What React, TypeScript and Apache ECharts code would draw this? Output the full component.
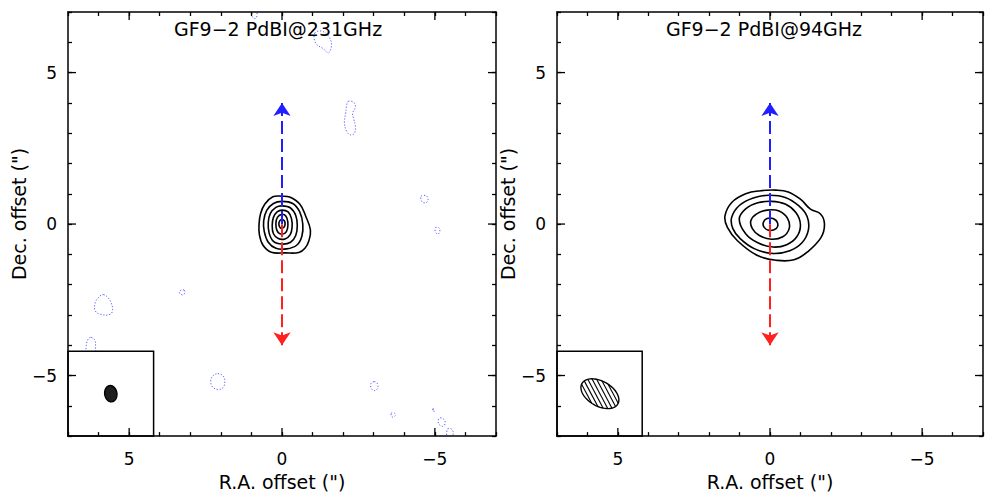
import React, { useEffect, useRef } from 'react';
import * as echarts from 'echarts';

const FONT = 'DejaVu Sans';
const AXIS_MIN = -7;
const AXIS_MAX = 7;
const MAJOR_TICKS = [-5, 0, 5];
const PANEL_TITLES = ['GF9−2 PdBI@231GHz', 'GF9−2 PdBI@94GHz'];
const X_TITLE = 'R.A. offset (")';
const Y_TITLE = 'Dec. offset (")';

// 231 GHz positive contours (R.A. offset, Dec. offset) in arcsec
const C231_1 = [[0.3, 0.9], [0, 0.92], [-0.25, 0.89], [-0.58, 0.66], [-0.78, 0.25], [-0.93, -0.2], [-0.88, -0.55], [-0.75, -0.8], [-0.55, -0.94], [-0.1, -0.95], [0.35, -0.93], [0.62, -0.7], [0.74, -0.35], [0.75, 0], [0.7, 0.35], [0.56, 0.66]];
const C231_2 = [[0, 0.75], [-0.35, 0.68], [-0.58, 0.4], [-0.68, 0], [-0.65, -0.4], [-0.48, -0.7], [-0.15, -0.82], [0.2, -0.8], [0.45, -0.6], [0.58, -0.25], [0.6, 0.1], [0.5, 0.45], [0.28, 0.68]];
const C231_3 = [[0, 0.6], [-0.28, 0.53], [-0.45, 0.28], [-0.5, -0.05], [-0.45, -0.38], [-0.28, -0.6], [0, -0.66], [0.28, -0.57], [0.42, -0.3], [0.45, 0.05], [0.38, 0.35], [0.2, 0.55]];
const C231_4 = [[0, 0.46], [-0.2, 0.4], [-0.31, 0.18], [-0.33, -0.1], [-0.27, -0.35], [-0.1, -0.49], [0.12, -0.48], [0.28, -0.32], [0.32, -0.05], [0.28, 0.22], [0.16, 0.4]];
const C231_5 = [[0, 0.32], [-0.13, 0.26], [-0.19, 0.07], [-0.18, -0.15], [-0.1, -0.3], [0.07, -0.32], [0.17, -0.2], [0.2, 0.02], [0.15, 0.22]];
const C231_6 = [[0, 0.15], [-0.08, 0.1], [-0.1, -0.02], [-0.05, -0.12], [0.05, -0.13], [0.1, -0.03], [0.08, 0.1]];
const CONT_231 = [C231_1, C231_2, C231_3, C231_4, C231_5, C231_6];

// 231 GHz negative (dotted) contours
const N231_A = [[-1.07, 6.3], [-1.29, 6.37], [-1.52, 6.2], [-1.62, 5.91], [-1.52, 5.65], [-1.36, 5.78], [-1.1, 5.97]];
const N231_B = [[0.95, 7.05], [0.97, 6.85], [0.88, 6.78], [0.82, 6.87], [0.84, 7.05]];
const N231_C = [[-2.17, 4.05], [-2.34, 4.02], [-2.4, 3.86], [-2.31, 3.66], [-2.34, 3.49], [-2.4, 3.23], [-2.37, 3.0], [-2.24, 2.94], [-2.11, 3.07], [-2.04, 3.37], [-2.08, 3.63], [-2.11, 3.89]];
const N231_D = [[-4.55, 0.92], [-4.72, 0.93], [-4.78, 0.8], [-4.7, 0.7], [-4.58, 0.74]];
const N231_E = [[-5.02, -0.12], [-5.14, -0.13], [-5.16, -0.25], [-5.1, -0.33], [-5.02, -0.26]];
const N231_F = [[5.84, -2.33], [5.68, -2.44], [5.59, -2.6], [5.54, -2.83], [5.62, -2.98], [5.94, -2.98], [6.11, -2.86], [6.11, -2.6], [5.98, -2.4]];
const N231_G = [[6.24, -3.74], [6.12, -3.84], [6.1, -4.05], [6.12, -4.3], [6.38, -4.3], [6.4, -4.0], [6.34, -3.8]];
const N231_H = [[3.2, -2.18], [3.33, -2.2], [3.35, -2.28], [3.25, -2.34], [3.18, -2.28]];
const N231_I = [[2.1, -4.94], [1.92, -5.02], [1.87, -5.2], [1.93, -5.4], [2.1, -5.46], [2.27, -5.38], [2.33, -5.2], [2.27, -5.02]];
const N231_J = [[-3.02, -5.2], [-3.12, -5.27], [-3.13, -5.42], [-3.02, -5.5], [-2.92, -5.42], [-2.91, -5.27]];
const N231_K = [[-3.57, -6.25], [-3.68, -6.24], [-3.7, -6.33], [-3.6, -6.37]];
const N231_L = [[-4.93, -6.1], [-4.98, -6.12], [-4.96, -6.2]];
const N231_M = [[-5.18, -6.4], [-5.3, -6.45], [-5.34, -6.58], [-5.25, -6.68], [-5.13, -6.6], [-5.11, -6.48]];
const N231_N = [[-5.42, -6.76], [-5.55, -6.77], [-5.6, -6.9], [-5.55, -7.05], [-5.4, -7.05], [-5.39, -6.88]];
const NEG_231 = [N231_A, N231_B, N231_C, N231_D, N231_E, N231_F, N231_G, N231_H, N231_I, N231_J, N231_K, N231_L, N231_M, N231_N];

// 94 GHz positive contours
const C94_1 = [[1.48, 0.27], [1.25, 0.72], [0.8, 1.0], [0.31, 1.1], [-0.2, 1.12], [-0.6, 1.06], [-1.0, 0.82], [-1.33, 0.49], [-1.66, 0.33], [-1.79, 0], [-1.68, -0.44], [-1.22, -0.93], [-0.79, -1.18], [-0.24, -1.2], [0.41, -1.04], [1.07, -0.55], [1.4, -0.11]];
const C94_2 = [[1.26, 0.22], [1.0, 0.62], [0.55, 0.86], [0.05, 0.95], [-0.5, 0.88], [-0.95, 0.6], [-1.22, 0.25], [-1.26, -0.2], [-1.05, -0.62], [-0.65, -0.88], [-0.1, -0.97], [0.5, -0.82], [0.98, -0.48], [1.22, -0.15]];
const C94_3 = [[1.01, 0.16], [0.8, 0.5], [0.4, 0.7], [-0.05, 0.75], [-0.5, 0.66], [-0.85, 0.38], [-1.0, -0.02], [-0.88, -0.42], [-0.55, -0.68], [-0.1, -0.76], [0.4, -0.62], [0.8, -0.32]];
const C94_4 = [[0.63, 0.11], [0.45, 0.33], [0.1, 0.46], [-0.3, 0.43], [-0.58, 0.18], [-0.63, -0.15], [-0.42, -0.42], [-0.05, -0.5], [0.35, -0.38], [0.58, -0.15]];
const C94_5 = [[0.22, 0.05], [0.1, 0.18], [-0.1, 0.18], [-0.25, 0.03], [-0.2, -0.15], [0.03, -0.21], [0.19, -0.11]];
const CONT_94 = [C94_1, C94_2, C94_3, C94_4, C94_5];

// outflow arrows
const SOURCE_POS = [0, 0];
const BLUE_TIP = [0, 4];
const RED_TIP = [0, -4];

// beams: [x, y, half major, half minor, PA deg]
const BEAM_231 = [5.6, -5.6, 0.27, 0.2, 8];
const BEAM_94 = [5.59, -5.6, 0.68, 0.41, 60];
const INSET_EDGE = 4.2;

const fmt = (v: number) => (v % 5 === 0 ? (v < 0 ? '−' + Math.abs(v) : String(Math.abs(v))) : '');

function xAxis(gi: number, pos: 'bottom' | 'top') {
  return {
    type: 'value', gridIndex: gi, position: pos, min: AXIS_MIN, max: AXIS_MAX, interval: 1, inverse: true, z: 3,
    axisLine: { show: true, onZero: false, lineStyle: { color: '#000', width: 1.5 } },
    axisTick: { show: true, inside: true, length: 4, lineStyle: { color: '#000', width: 1.3 } },
    axisLabel: pos === 'bottom'
      ? { show: true, formatter: fmt, margin: 14, fontSize: 17, fontFamily: FONT, color: '#000' }
      : { show: false },
    splitLine: { show: false },
    name: pos === 'bottom' ? X_TITLE : '', nameLocation: 'middle', nameGap: 31,
    nameTextStyle: { fontSize: 19, fontFamily: FONT, color: '#000' },
  };
}
function yAxis(gi: number, pos: 'left' | 'right') {
  return {
    type: 'value', gridIndex: gi, position: pos, min: AXIS_MIN, max: AXIS_MAX, interval: 1, z: 3,
    axisLine: { show: true, onZero: false, lineStyle: { color: '#000', width: 1.5 } },
    axisTick: { show: true, inside: true, length: 4, lineStyle: { color: '#000', width: 1.3 } },
    axisLabel: pos === 'left'
      ? { show: true, formatter: fmt, margin: 11, fontSize: 17, fontFamily: FONT, color: '#000' }
      : { show: false },
    splitLine: { show: false },
  };
}

function contourSeries(ai: number, contours: number[][][], style: any) {
  return {
    type: 'custom', xAxisIndex: ai, yAxisIndex: ai, clip: true, z: 2, silent: true,
    data: contours.map((c, i) => [c[0][0], c[0][1], i]),
    renderItem: (params: any, api: any) => {
      const pts = contours[params.dataIndex].map((p) => api.coord(p));
      return { type: 'polygon', shape: { points: pts, smooth: 0.4 }, style };
    },
  };
}

function beamSeries(ai: number, beam: number[], hatch: boolean) {
  return {
    type: 'custom', xAxisIndex: ai, yAxisIndex: ai, z: 2, silent: true,
    data: [[beam[0], beam[1]]],
    renderItem: (params: any, api: any) => {
      const tl = api.coord([AXIS_MAX, -INSET_EDGE]);
      const br = api.coord([INSET_EDGE, AXIS_MIN]);
      const [bx, by, a, b, pa] = beam;
      const t = (pa * Math.PI) / 180;
      const u = [Math.sin(t), Math.cos(t)];
      const v = [Math.cos(t), -Math.sin(t)];
      const pts: number[][] = [];
      for (let k = 0; k < 72; k++) {
        const ang = (k / 72) * 2 * Math.PI;
        pts.push(api.coord([
          bx + a * Math.cos(ang) * u[0] + b * Math.sin(ang) * v[0],
          by + a * Math.cos(ang) * u[1] + b * Math.sin(ang) * v[1],
        ]));
      }
      const children: any[] = [
        { type: 'rect', shape: { x: tl[0], y: tl[1], width: br[0] - tl[0], height: br[1] - tl[1] }, style: { fill: '#fff', stroke: '#000', lineWidth: 1.5 } },
        { type: 'polygon', shape: { points: pts }, style: { fill: hatch ? '#fff' : '#1e1e1e', stroke: '#000', lineWidth: 1.4 } },
      ];
      if (hatch) {
        const c = api.coord([bx, by]);
        const pu = api.coord([bx + a * u[0], by + a * u[1]]);
        const pv = api.coord([bx + b * v[0], by + b * v[1]]);
        const A = Math.hypot(pu[0] - c[0], pu[1] - c[1]);
        const B = Math.hypot(pv[0] - c[0], pv[1] - c[1]);
        const e1 = [(pu[0] - c[0]) / A, (pu[1] - c[1]) / A];
        const e2 = [(pv[0] - c[0]) / B, (pv[1] - c[1]) / B];
        const phi = (62 * Math.PI) / 180;
        const d = [Math.cos(phi), Math.sin(phi)];
        const n = [-Math.sin(phi), Math.cos(phi)];
        const d1 = d[0] * e1[0] + d[1] * e1[1];
        const d2 = d[0] * e2[0] + d[1] * e2[1];
        const n1 = n[0] * e1[0] + n[1] * e1[1];
        const n2 = n[0] * e2[0] + n[1] * e2[1];
        const spacing = 3.9;
        const kmax = Math.floor(A / spacing);
        for (let k = -kmax; k <= kmax; k++) {
          const s = k * spacing;
          const al = (d1 / A) ** 2 + (d2 / B) ** 2;
          const be = 2 * s * ((n1 * d1) / (A * A) + (n2 * d2) / (B * B));
          const ga = ((s * n1) / A) ** 2 + ((s * n2) / B) ** 2 - 1;
          const disc = be * be - 4 * al * ga;
          if (disc <= 0) continue;
          const t1 = (-be - Math.sqrt(disc)) / (2 * al);
          const t2 = (-be + Math.sqrt(disc)) / (2 * al);
          children.push({
            type: 'line',
            shape: { x1: c[0] + s * n[0] + t1 * d[0], y1: c[1] + s * n[1] + t1 * d[1], x2: c[0] + s * n[0] + t2 * d[0], y2: c[1] + s * n[1] + t2 * d[1] },
            style: { stroke: '#000', lineWidth: 1.1 },
          });
        }
      }
      return { type: 'group', children };
    },
  };
}

function majorTickSeries(ai: number) {
  return {
    type: 'custom', xAxisIndex: ai, yAxisIndex: ai, z: 4, silent: true,
    data: MAJOR_TICKS.map((v) => [v, v]),
    renderItem: (params: any, api: any) => {
      const v = MAJOR_TICKS[params.dataIndex];
      const L = 8;
      const bt = api.coord([v, AXIS_MIN]);
      const tp = api.coord([v, AXIS_MAX]);
      const lf = api.coord([AXIS_MAX, v]);
      const rt = api.coord([AXIS_MIN, v]);
      const st = { stroke: '#000', lineWidth: 1.3 };
      return {
        type: 'group',
        children: [
          { type: 'line', shape: { x1: bt[0], y1: bt[1], x2: bt[0], y2: bt[1] - L }, style: st },
          { type: 'line', shape: { x1: tp[0], y1: tp[1], x2: tp[0], y2: tp[1] + L }, style: st },
          { type: 'line', shape: { x1: lf[0], y1: lf[1], x2: lf[0] + L, y2: lf[1] }, style: st },
          { type: 'line', shape: { x1: rt[0], y1: rt[1], x2: rt[0] - L, y2: rt[1] }, style: st },
        ],
      };
    },
  };
}

function arrowSeries(ai: number) {
  return {
    type: 'lines', coordinateSystem: 'cartesian2d', xAxisIndex: ai, yAxisIndex: ai, z: 3, silent: true,
    symbol: ['arrow', 'none'], symbolSize: 13,
    lineStyle: { width: 2, type: [13, 5], opacity: 1 },
    data: [
      { coords: [BLUE_TIP, SOURCE_POS], lineStyle: { color: '#1f1fff', width: 2, type: [13, 5], opacity: 1 } },
      { coords: [RED_TIP, SOURCE_POS], lineStyle: { color: '#ff2020', width: 2, type: [13, 5], opacity: 1 } },
    ],
  };
}

export default function App() {
  const ref = useRef<HTMLDivElement>(null);
  useEffect(() => {
    if (!ref.current) return;
    const chart = echarts.init(ref.current, null, { renderer: 'svg' });
    const posStyle = { fill: 'none', stroke: '#000', lineWidth: 1.6 };
    const negStyle = { fill: 'none', stroke: '#5a5aff', lineWidth: 1, lineDash: [1.2, 1.8] };
    const titleStyle = { fontFamily: FONT, fontSize: 19, fill: '#000', align: 'center', verticalAlign: 'middle' };
    chart.setOption({
      animation: false,
      backgroundColor: '#fff',
      textStyle: { fontFamily: FONT },
      grid: [
        { left: 68, top: 12, width: 428, height: 427 },
        { left: 557, top: 12, width: 427, height: 427 },
      ],
      xAxis: [xAxis(0, 'bottom'), xAxis(0, 'top'), xAxis(1, 'bottom'), xAxis(1, 'top')],
      yAxis: [yAxis(0, 'left'), yAxis(0, 'right'), yAxis(1, 'left'), yAxis(1, 'right')],
      graphic: [
        { type: 'text', x: 278, y: 29, style: { ...titleStyle, text: PANEL_TITLES[0] } },
        { type: 'text', x: 764, y: 29, style: { ...titleStyle, text: PANEL_TITLES[1] } },
        { type: 'text', x: 18.5, y: 214, rotation: Math.PI / 2, style: { ...titleStyle, text: Y_TITLE } },
        { type: 'text', x: 507.5, y: 214, rotation: Math.PI / 2, style: { ...titleStyle, text: Y_TITLE } },
      ],
      series: [
        contourSeries(0, NEG_231, negStyle),
        contourSeries(0, CONT_231, posStyle),
        beamSeries(0, BEAM_231, false),
        arrowSeries(0),
        majorTickSeries(0),
        contourSeries(2, CONT_94, posStyle),
        beamSeries(2, BEAM_94, true),
        arrowSeries(2),
        majorTickSeries(2),
      ],
    });
    return () => chart.dispose();
  }, []);
  return <div ref={ref} style={{ position: 'fixed', left: 0, top: 0, width: 986, height: 496 }} />;
}
